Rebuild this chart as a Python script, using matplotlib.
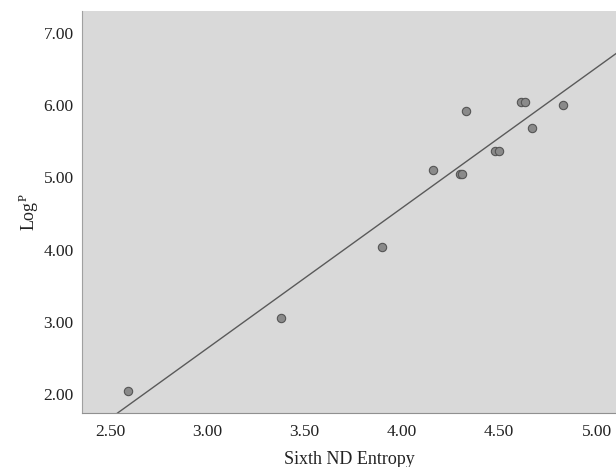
import numpy as np
import matplotlib
matplotlib.use("Agg")
import matplotlib.pyplot as plt

plt.rcParams['font.family'] = ['Liberation Serif', 'DejaVu Serif']
plt.rcParams['mathtext.fontset'] = 'custom'
plt.rcParams['mathtext.rm'] = 'Liberation Serif'

# данные
entropy = [2.59, 3.38, 3.90, 4.16, 4.30, 4.31, 4.33, 4.48, 4.50, 4.61, 4.63, 4.67, 4.83]
logp = [2.04, 3.05, 4.04, 5.10, 5.05, 5.05, 5.92, 5.36, 5.36, 6.04, 6.04, 5.68, 6.00]
xticks = [2.5, 3.0, 3.5, 4.0, 4.5, 5.0]
yticks = [2.0, 3.0, 4.0, 5.0, 6.0, 7.0]

# линия регрессии
k, b = np.polyfit(entropy, logp, 1)
xs = np.array([2.3, 5.2])

fig = plt.figure(figsize=(6.16, 4.67), dpi=100)
ax = fig.add_axes([82 / 616, 1 - 413 / 467, 534 / 616, 402 / 467])
ax.set_facecolor('#d9d9d9')

ax.plot(xs, k * xs + b, color='#5a5a5a', lw=1.0, zorder=2)
ax.plot(entropy, logp, 'o', ms=6, mfc='#8a8a8a', mec='#555555', mew=0.8, zorder=3)

ax.set_xlim(2.356, 5.10)
ax.set_ylim(1.737, 7.305)
ax.set_xticks(xticks)
ax.set_yticks(yticks)
ax.set_xticklabels([f"{t:.2f}" for t in xticks])
ax.set_yticklabels([f"{t:.2f}" for t in yticks])
ax.tick_params(length=0, labelsize=12.5, colors='#222222', pad=6)
ax.tick_params(axis='x', pad=8)

for s in ['top', 'right']:
    ax.spines[s].set_visible(False)
ax.spines['left'].set_color('#a0a0a0')
ax.spines['bottom'].set_color('#909090')

ax.set_xlabel("Sixth ND Entropy", fontsize=13, color='#222222', labelpad=8)
ax.set_ylabel(r"Log$^{\mathrm{P}}$", fontsize=13, color='#222222', labelpad=2)

fig.savefig("out.png", dpi=100)
